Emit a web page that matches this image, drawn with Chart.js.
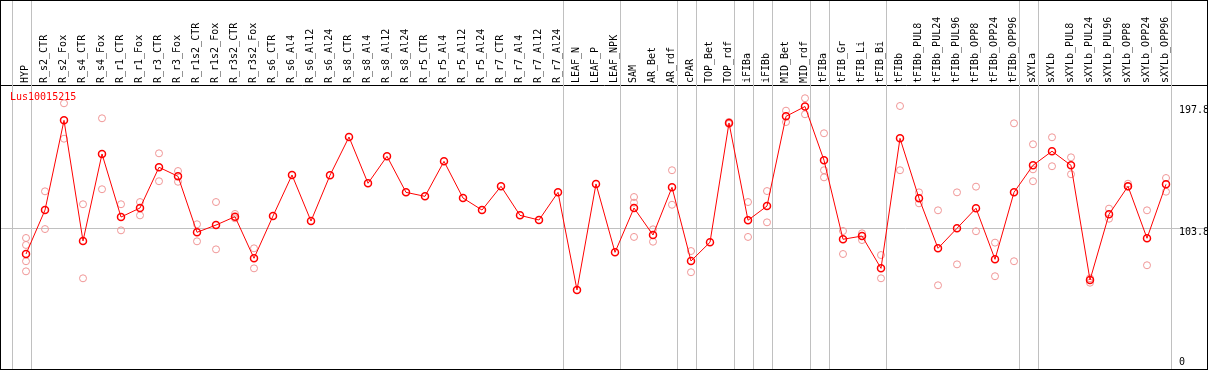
<!DOCTYPE html>
<html><head><meta charset="utf-8">
<script src="https://cdn.jsdelivr.net/npm/chart.js@4/dist/chart.umd.min.js"></script>
<style>
html,body{margin:0;padding:0;background:#fff;}
#frame{position:absolute;left:0;top:0;width:1206px;height:368px;border:1px solid #000;}
canvas{display:block;}
</style></head><body>
<div id="frame"><canvas id="c" width="1206" height="368"></canvas></div>
<script>
const chartTitle = 'Lus10015215';
const categories = ['HYP','R_s2_CTR','R_s2_Fox','R_s4_CTR','R_s4_Fox','R_r1_CTR','R_r1_Fox','R_r3_CTR','R_r3_Fox','R_r1s2_CTR','R_r1s2_Fox','R_r3s2_CTR','R_r3s2_Fox','R_s6_CTR','R_s6_Al4','R_s6_Al12','R_s6_Al24','R_s8_CTR','R_s8_Al4','R_s8_Al12','R_s8_Al24','R_r5_CTR','R_r5_Al4','R_r5_Al12','R_r5_Al24','R_r7_CTR','R_r7_Al4','R_r7_Al12','R_r7_Al24','LEAF_N','LEAF_P','LEAF_NPK','SAM','AR_Bet','AR_rdf','cPAR','TOP_Bet','TOP_rdf','iFIBa','iFIBb','MID_Bet','MID_rdf','tFIBa','tFIB_Gr','tFIB_Li','tFIB_Bi','tFIBb','tFIBb_PUL8','tFIBb_PUL24','tFIBb_PUL96','tFIBb_OPP8','tFIBb_OPP24','tFIBb_OPP96','sXYLa','sXYLb','sXYLb_PUL8','sXYLb_PUL24','sXYLb_PUL96','sXYLb_OPP8','sXYLb_OPP24','sXYLb_OPP96'];
const means = [83.7,117.7,187.1,93.8,161.1,112.3,119.3,150.8,143.8,100.5,
  106.1,112.6,80.4,113.1,144.8,109.2,144.6,174.2,138.4,159.3,
  131.4,128.3,155.4,127.0,117.7,136.1,113.6,110.0,131.4,55.9,
  137.9,85.0,119.3,98.4,135.3,78.3,92.8,185.1,109.8,120.8,
  190.2,197.8,156.2,95.1,97.6,72.6,173.2,126.8,88.1,103.6,
  119.1,79.6,131.4,152.3,163.2,152.3,63.6,114.4,136.1,95.9,137.6];
const replicates = [
  [96.1,90.7,78.1,70.3],[132.2,103.0],[200.3,172.9],[122.2,64.9],[188.7,133.8],
  [122.2,102.0],[123.9,113.6],[161.6,140.0],[147.9,139.6],[106.7,93.5],
  [123.9,87.3],[114.7,111.3],[88.1,72.6],
  [],[],[],[],[],[],[],[],[],[],[],[],[],[],[],[],[],[],[],
  [127.8,123.4,96.9],[102.8,93.2],[148.5,121.8],[86.0,69.6],[],[185.9,184.3],
  [123.9,96.9],[132.4,108.2],[194.6,185.8],[204.2,191.8],[177.1,148.5,143.0],
  [101.5,83.7],[99.7,94.5],[82.9,64.9],[198.2,148.5],[131.4,122.9],[117.5,59.5],
  [131.4,75.7],[135.8,101.3],[92.5,66.5],[184.8,78.1],[168.6,149.2,140.0],
  [174.0,151.6],[158.5,145.4],[64.9,61.5],[118.8,111.0],[138.1,135.8],
  [117.5,75.0],[142.5,131.9]];
const yTickValues = [0, 103.8, 197.8];
const yTickLabels = ['0', '103.8', '197.8'];
const gridTickValue = 103.8;
const groupBreaks = [-1, 0, 28, 31, 34, 35, 37, 38, 39, 41, 42, 45, 52, 53, 60];

const FONT = 'DejaVu Sans Mono';
const meanPts = means.map((v, i) => ({x: i, y: v}));
const repPts = [];
replicates.forEach((arr, i) => arr.forEach(v => repPts.push({x: i, y: v})));

function noPad(s) { s.paddingLeft = 0; s.paddingRight = 0; s.paddingTop = 0; s.paddingBottom = 0; }

const overlay = {
  id: 'overlay',
  beforeDatasetsDraw(chart) {
    const ctx = chart.ctx, xs = chart.scales.x, area = chart.chartArea;
    ctx.save();
    ctx.strokeStyle = '#c0c0c0';
    ctx.lineWidth = 1;
    groupBreaks.forEach(b => {
      const px = Math.round(xs.getPixelForValue(b + 0.237)) + 0.5;
      ctx.beginPath();
      ctx.moveTo(px, 0);
      ctx.lineTo(px, area.bottom);
      ctx.stroke();
    });
    ctx.fillStyle = '#ff0000';
    ctx.font = '10px "' + FONT + '"';
    ctx.textBaseline = 'middle';
    ctx.textAlign = 'left';
    ctx.fillText(chartTitle, area.left + 9, area.top + 12);
    ctx.restore();
  }
};

new Chart(document.getElementById('c'), {
  data: {
    datasets: [
      {type: 'line', data: meanPts, borderColor: '#ff0000', borderWidth: 1, tension: 0,
       pointRadius: 3.5, pointBorderWidth: 1.5, pointBorderColor: '#ff0000',
       pointBackgroundColor: 'rgba(0,0,0,0)', fill: false},
      {type: 'scatter', data: repPts, showLine: false, pointRadius: 3.5, pointBorderWidth: 1,
       pointBorderColor: 'rgb(240,150,150)', pointBackgroundColor: 'rgba(0,0,0,0)'}
    ]
  },
  options: {
    responsive: false, animation: false, devicePixelRatio: 1,
    layout: {padding: 0, autoPadding: false},
    plugins: {legend: {display: false}, tooltip: {enabled: false}},
    scales: {
      x: {
        type: 'linear', position: 'top',
        min: -25 / 19, max: (1206 - 25) / 19,
        afterBuildTicks: s => { s.ticks = categories.map((_, i) => ({value: i})); },
        afterFit: s => { s.height = 84; noPad(s); },
        grid: {display: false, drawTicks: false},
        border: {display: true, color: '#000', width: 1},
        ticks: {autoSkip: false, minRotation: 90, maxRotation: 90, padding: 2, labelOffset: 11,
          color: '#000', font: {family: FONT, size: 10},
          callback: v => categories[v] ?? ''}
      },
      y: {
        type: 'linear', position: 'right',
        min: -5.26, max: 214.45,
        afterBuildTicks: s => { s.ticks = yTickValues.map(v => ({value: v})); },
        afterFit: s => { s.width = 0; noPad(s); },
        grid: {drawTicks: false, lineWidth: 1,
          color: c => (c.tick && c.tick.value === gridTickValue) ? '#c0c0c0' : 'rgba(0,0,0,0)'},
        border: {display: false},
        ticks: {mirror: true, crossAlign: 'far', padding: 2, color: '#000',
          font: {family: FONT, size: 10, lineHeight: 0.8},
          callback: v => { const k = yTickValues.indexOf(v); const t = yTickLabels[k]; return v === 0 ? t : ['', t]; }}
      }
    }
  },
  plugins: [overlay]
});
</script>
</body></html>
